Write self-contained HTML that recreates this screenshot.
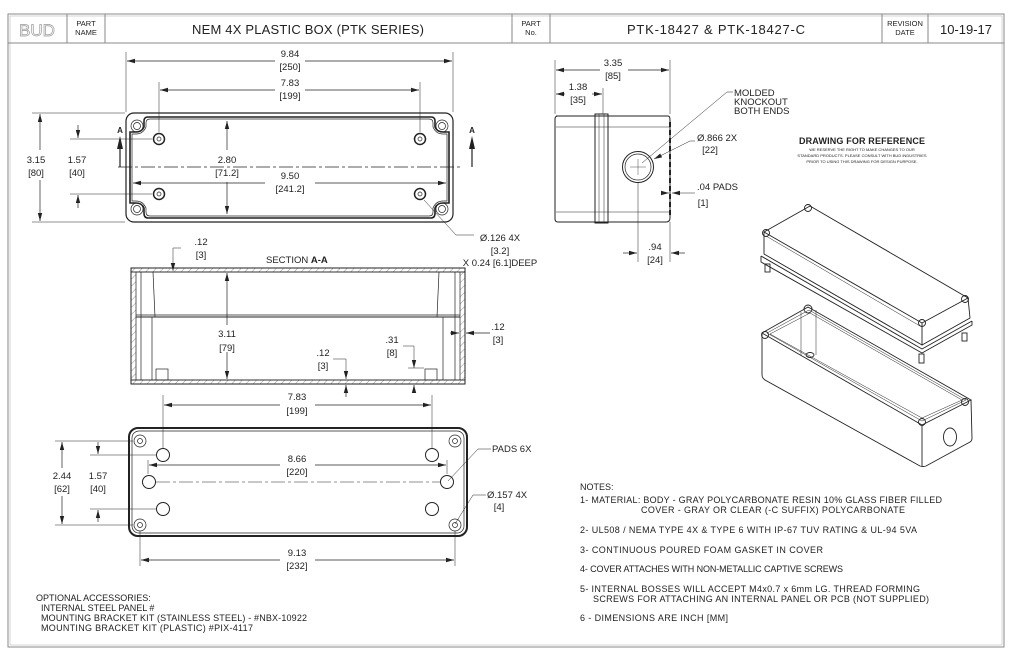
<!DOCTYPE html>
<html><head><meta charset="utf-8"><style>
html,body{margin:0;padding:0;background:#fff}
svg{display:block}
text{font-family:"Liberation Sans",sans-serif;fill:#222}
</style></head><body>
<svg width="1024" height="663" viewBox="0 0 1024 663" xmlns="http://www.w3.org/2000/svg">
<defs>
<marker id="ar" markerWidth="8" markerHeight="6" refX="8" refY="3" orient="auto" markerUnits="userSpaceOnUse"><path d="M0,0.8 L8,3 L0,5.2z" fill="#222"/></marker>
<pattern id="hatch" width="5" height="5" patternUnits="userSpaceOnUse" patternTransform="rotate(45)"><line x1="0" y1="0" x2="0" y2="5" stroke="#666" stroke-width="0.7"/></pattern>
</defs>
<rect x="8" y="14" width="996" height="633" fill="none" stroke="#888" stroke-width="1"/>
<rect x="10" y="16" width="992" height="629" fill="none" stroke="#bbb" stroke-width="0.6"/>
<line x1="8" y1="43" x2="1004" y2="43" stroke="#888"/>
<g stroke="#888">
<line x1="67" y1="14" x2="67" y2="43"/><line x1="105" y1="14" x2="105" y2="43"/>
<line x1="512" y1="14" x2="512" y2="43"/><line x1="550" y1="14" x2="550" y2="43"/>
<line x1="882" y1="14" x2="882" y2="43"/><line x1="928" y1="14" x2="928" y2="43"/>
</g>
<text x="37" y="36" font-size="17" text-anchor="middle" style="fill:none;stroke:#999;stroke-width:0.7">BUD</text>
<text x="86" y="26" font-size="7.5" text-anchor="middle">PART</text>
<text x="86" y="35" font-size="7.5" text-anchor="middle">NAME</text>
<text x="308" y="34" font-size="13" text-anchor="middle" textLength="232">NEM 4X PLASTIC BOX (PTK SERIES)</text>
<text x="531" y="26" font-size="7.5" text-anchor="middle">PART</text>
<text x="531" y="35" font-size="7.5" text-anchor="middle">No.</text>
<text x="716" y="34" font-size="13" text-anchor="middle" textLength="178">PTK-18427 &amp; PTK-18427-C</text>
<text x="905" y="26" font-size="7.5" text-anchor="middle">REVISION</text>
<text x="905" y="35" font-size="7.5" text-anchor="middle">DATE</text>
<text x="966" y="34" font-size="13" text-anchor="middle">10-19-17</text>

<g stroke="#222" fill="none" stroke-width="0.7">
<rect x="126" y="113" width="327" height="109" rx="8" stroke-width="1.2"/>
<path d="M148,117 H431 Q435,117 435,121 V127 Q437,132 443,132 H449 V203 H443 Q437,203 435,208 V213 Q435,218 431,218 H148 Q144,218 144,213 V208 Q142,203 136,203 H130 V132 H136 Q142,132 144,127 V121 Q144,117 148,117Z" stroke-width="1.6"/>
<path d="M150,119 H429 Q433,119 433,123 V127 Q436,134 443,134 H447 V201 H443 Q436,201 433,208 V212 Q433,216 429,216 H150 Q146,216 146,212 V208 Q143,201 136,201 H132 V134 H136 Q143,134 146,127 V123 Q146,119 150,119Z"/>
<circle cx="137" cy="126" r="6"/><circle cx="137" cy="126" r="3.5"/>
<circle cx="442" cy="126" r="6"/><circle cx="442" cy="126" r="3.5"/>
<circle cx="137" cy="209" r="6"/><circle cx="137" cy="209" r="3.5"/>
<circle cx="442" cy="209" r="6"/><circle cx="442" cy="209" r="3.5"/>
<circle cx="159" cy="139" r="5.5" stroke-width="1.5"/><circle cx="159" cy="139" r="2"/>
<circle cx="420" cy="139" r="5.5" stroke-width="1.5"/><circle cx="420" cy="139" r="2"/>
<circle cx="159" cy="194" r="5.5" stroke-width="1.5"/><circle cx="159" cy="194" r="2"/>
<circle cx="420" cy="194" r="5.5" stroke-width="1.5"/><circle cx="420" cy="194" r="2"/>
<line x1="118" y1="167" x2="460" y2="167" stroke-dasharray="14,3,3,3"/>
<line x1="120" y1="167" x2="120" y2="148" stroke-width="1.2"/>
<path d="M117,149 L120,136 L123,149Z" fill="#222" stroke="none"/>
<line x1="472" y1="167" x2="472" y2="148" stroke-width="1.2"/>
<path d="M469,149 L472,136 L475,149Z" fill="#222" stroke="none"/>
<line x1="126" y1="52" x2="126" y2="112" stroke-width="0.5"/><line x1="453" y1="52" x2="453" y2="112" stroke-width="0.5"/>
<line x1="275" y1="61" x2="127" y2="61" marker-end="url(#ar)"/><line x1="305" y1="61" x2="452" y2="61" marker-end="url(#ar)"/>
<line x1="159" y1="82" x2="159" y2="132" stroke-width="0.5"/><line x1="420" y1="82" x2="420" y2="132" stroke-width="0.5"/>
<line x1="275" y1="90" x2="160" y2="90" marker-end="url(#ar)"/><line x1="305" y1="90" x2="419" y2="90" marker-end="url(#ar)"/>
<line x1="32" y1="113" x2="125" y2="113" stroke-width="0.5"/><line x1="32" y1="222" x2="125" y2="222" stroke-width="0.5"/>
<line x1="40" y1="150" x2="40" y2="114" marker-end="url(#ar)"/><line x1="40" y1="180" x2="40" y2="221" marker-end="url(#ar)"/>
<line x1="70" y1="139" x2="152" y2="139" stroke-width="0.5"/><line x1="70" y1="194" x2="152" y2="194" stroke-width="0.5"/>
<line x1="78" y1="125" x2="78" y2="138" marker-end="url(#ar)"/><line x1="78" y1="208" x2="78" y2="195" marker-end="url(#ar)"/>
<line x1="227" y1="150" x2="227" y2="121" marker-end="url(#ar)"/><line x1="227" y1="182" x2="227" y2="214" marker-end="url(#ar)"/>
<line x1="265" y1="183" x2="133" y2="183" marker-end="url(#ar)"/><line x1="315" y1="183" x2="446" y2="183" marker-end="url(#ar)"/>
<polyline points="474,235 456,235 424,200" stroke-width="0.5"/>
<path d="M556,116 H668 Q670,116 670,120 V218 Q670,222 666,222 H558 Q555,222 555,219 V119 Q555,116 558,116Z" stroke-width="1"/>
<line x1="556" y1="127" x2="670" y2="127" stroke-width="0.5"/>
<line x1="556" y1="212" x2="670" y2="212" stroke-width="0.5"/>
<rect x="595" y="114" width="13" height="109" stroke-width="1"/>
<line x1="599" y1="114" x2="599" y2="223" stroke-width="0.5"/><line x1="604" y1="114" x2="604" y2="223" stroke-width="0.5"/>
<path d="M670,122 V218" stroke-width="2" stroke-dasharray="5,3"/>
<circle cx="638" cy="167" r="15.5" stroke-width="1"/><circle cx="638" cy="167" r="13"/>
<line x1="630" y1="167" x2="646" y2="167" stroke-width="0.4"/><line x1="638" y1="159" x2="638" y2="175" stroke-width="0.4"/>
<line x1="555" y1="60" x2="555" y2="114" stroke-width="0.5"/><line x1="670" y1="60" x2="670" y2="114" stroke-width="0.5"/>
<line x1="600" y1="70" x2="556" y2="70" marker-end="url(#ar)"/><line x1="628" y1="70" x2="669" y2="70" marker-end="url(#ar)"/>
<line x1="603" y1="88" x2="603" y2="114" stroke-width="0.5"/>
<line x1="565" y1="94" x2="556" y2="94" marker-end="url(#ar)"/><line x1="592" y1="94" x2="602" y2="94" marker-end="url(#ar)"/>
<polyline points="733,92 727,92 642,163" stroke-width="0.5"/>
<polyline points="695,141 690,141 654,159" stroke-width="0.5" marker-end="url(#ar)"/>
<line x1="662" y1="193" x2="669" y2="193" stroke-width="0.5" marker-end="url(#ar)"/>
<line x1="695" y1="193" x2="672" y2="193" stroke-width="0.5" marker-end="url(#ar)"/>
<line x1="638" y1="183" x2="638" y2="262" stroke-width="0.5"/>
<line x1="670" y1="222" x2="670" y2="262" stroke-width="0.5"/>
<line x1="623" y1="253" x2="637" y2="253" marker-end="url(#ar)"/><line x1="685" y1="253" x2="671" y2="253" marker-end="url(#ar)"/>
<rect x="131" y="268" width="334" height="116" stroke-width="1"/>
<rect x="131" y="268" width="334" height="4" fill="url(#hatch)"/>
<rect x="131" y="380" width="334" height="4" fill="url(#hatch)"/>
<rect x="131" y="272" width="5" height="108" fill="url(#hatch)"/>
<rect x="460" y="272" width="5" height="108" fill="url(#hatch)"/>
<line x1="136" y1="272" x2="460" y2="272"/><line x1="136" y1="380" x2="460" y2="380"/>
<line x1="136" y1="317" x2="460" y2="317" stroke-width="1"/><line x1="136" y1="315" x2="460" y2="315"/>
<line x1="141" y1="272" x2="141" y2="380"/><line x1="455" y1="272" x2="455" y2="380"/>
<line x1="153" y1="272" x2="155" y2="317"/><line x1="439" y1="272" x2="437" y2="317"/>
<line x1="152" y1="317" x2="152" y2="380"/><line x1="443" y1="317" x2="443" y2="380"/>
<rect x="156" y="369" width="12" height="11"/><rect x="425" y="369" width="12" height="11"/>
<line x1="173" y1="248" x2="173" y2="271" stroke-width="0.5" marker-end="url(#ar)"/><line x1="173" y1="248" x2="181" y2="248" stroke-width="0.5"/>
<line x1="227" y1="325" x2="227" y2="273" marker-end="url(#ar)"/><line x1="227" y1="352" x2="227" y2="379" marker-end="url(#ar)"/>
<polyline points="333,359 346,359 346,379" stroke-width="0.5" marker-end="url(#ar)"/><line x1="346" y1="397" x2="346" y2="385" marker-end="url(#ar)"/>
<polyline points="403,346 414,346 414,368" stroke-width="0.5" marker-end="url(#ar)"/><line x1="414" y1="393" x2="414" y2="385" marker-end="url(#ar)"/>
<line x1="408" y1="368" x2="424" y2="368" stroke-width="0.5"/>
<line x1="450" y1="333" x2="459" y2="333" marker-end="url(#ar)"/><line x1="490" y1="333" x2="466" y2="333" marker-end="url(#ar)"/>
<line x1="163" y1="395" x2="163" y2="448" stroke-width="0.5"/><line x1="432" y1="395" x2="432" y2="448" stroke-width="0.5"/>
<line x1="280" y1="405" x2="164" y2="405" marker-end="url(#ar)"/><line x1="315" y1="405" x2="431" y2="405" marker-end="url(#ar)"/>
<rect x="129" y="428" width="338" height="108" rx="9" stroke-width="2"/>
<rect x="132" y="431" width="332" height="102" rx="7"/>
<circle cx="140" cy="441" r="6"/><circle cx="140" cy="441" r="2.5"/>
<circle cx="455" cy="441" r="6"/><circle cx="455" cy="441" r="2.5"/>
<circle cx="140" cy="525" r="6"/><circle cx="140" cy="525" r="2.5"/>
<circle cx="455" cy="525" r="6"/><circle cx="455" cy="525" r="2.5"/>
<circle cx="163" cy="455" r="6.5" stroke-width="1"/><circle cx="432" cy="455" r="6.5" stroke-width="1"/>
<circle cx="149" cy="482" r="6.5" stroke-width="1"/><circle cx="447" cy="482" r="6.5" stroke-width="1"/>
<circle cx="163" cy="509" r="6.5" stroke-width="1"/><circle cx="432" cy="509" r="6.5" stroke-width="1"/>
<line x1="156" y1="482" x2="440" y2="482" stroke-dasharray="14,3,3,3" stroke-width="0.5"/>
<line x1="148" y1="460" x2="148" y2="474" stroke-width="0.5"/><line x1="447" y1="460" x2="447" y2="474" stroke-width="0.5"/>
<line x1="280" y1="465" x2="149" y2="465" marker-end="url(#ar)"/><line x1="315" y1="465" x2="446" y2="465" marker-end="url(#ar)"/>
<line x1="55" y1="441" x2="133" y2="441" stroke-width="0.5"/><line x1="55" y1="525" x2="133" y2="525" stroke-width="0.5"/>
<line x1="62" y1="468" x2="62" y2="442" marker-end="url(#ar)"/><line x1="62" y1="496" x2="62" y2="524" marker-end="url(#ar)"/>
<line x1="90" y1="455" x2="156" y2="455" stroke-width="0.5"/><line x1="90" y1="509" x2="156" y2="509" stroke-width="0.5"/>
<line x1="98" y1="442" x2="98" y2="454" marker-end="url(#ar)"/><line x1="98" y1="522" x2="98" y2="510" marker-end="url(#ar)"/>
<line x1="140" y1="531" x2="140" y2="566" stroke-width="0.5"/><line x1="455" y1="531" x2="455" y2="566" stroke-width="0.5"/>
<line x1="280" y1="560" x2="141" y2="560" marker-end="url(#ar)"/><line x1="315" y1="560" x2="454" y2="560" marker-end="url(#ar)"/>
<polyline points="491,449 478,449 448,481" stroke-width="0.5"/>
<polyline points="486,495 473,495 455,524" stroke-width="0.5"/>
<g stroke-width="0.9">
<path d="M764,232 L810,206 L968,298 L922,323 Z"/>
<path d="M764,232 L764,254 L922,345 L922,323"/>
<path d="M922,345 L970,318 L968,298"/>
<path d="M761,256 L922,349 L972,321"/>
<path d="M761,256 L761,262 L922,353 L972,325 L972,321"/>
<path d="M766,236 L920,326" stroke-width="0.5"/>
<circle cx="808" cy="208" r="3.5"/><circle cx="766" cy="233" r="3.5"/><circle cx="965" cy="299" r="3.5"/><circle cx="922" cy="323" r="3.5"/>
<rect x="765" y="264" width="5" height="8"/><rect x="919" y="354" width="5" height="9"/><rect x="962" y="333" width="5" height="8"/>
<path d="M762,333 L808,307 L971,400 L922,425 Z"/>
<path d="M767,333 L809,310 L966,400 L922,421 Z" stroke-width="0.5"/>
<path d="M770,334 L810,313 L962,400 L922,418 Z" stroke-width="0.5"/>
<path d="M762,333 L762,375 Q762,378 765,380 L920,466 Q923,467 926,466 L970,442 Q972,441 972,438 L971,400"/>
<line x1="922" y1="425" x2="922" y2="466"/>
<line x1="801" y1="312" x2="801" y2="355" stroke-width="0.5"/><line x1="816" y1="310" x2="816" y2="355" stroke-width="0.5"/>
<ellipse cx="810" cy="355" rx="4" ry="2.5"/>
<circle cx="808" cy="309" r="4"/><circle cx="765" cy="335" r="3.5"/><circle cx="965" cy="402" r="3.5"/><circle cx="922" cy="422" r="3.5"/>
<ellipse cx="950" cy="437" rx="6.5" ry="9"/>
</g>
</g>
<g font-size="9.5" text-anchor="middle">
<text x="290" y="57">9.84</text><text x="290" y="70">[250]</text>
<text x="290" y="86">7.83</text><text x="290" y="99">[199]</text>
<text x="36" y="163">3.15</text><text x="36" y="176">[80]</text>
<text x="77" y="163">1.57</text><text x="77" y="176">[40]</text>
<text x="227" y="163">2.80</text><text x="227" y="176">[71.2]</text>
<text x="290" y="179">9.50</text><text x="290" y="192">[241.2]</text>
<text x="120" y="133" font-size="8" font-weight="bold">A</text>
<text x="472" y="133" font-size="8" font-weight="bold">A</text>
<text x="500" y="241">Ø.126 4X</text><text x="500" y="254">[3.2]</text>
<text x="500" y="266">X 0.24 [6.1]DEEP</text>
<text x="613" y="66">3.35</text><text x="613" y="79">[85]</text>
<text x="578" y="90">1.38</text><text x="578" y="103">[35]</text>
<text x="655" y="250">.94</text><text x="655" y="263">[24]</text>
<text x="201" y="245">.12</text><text x="201" y="258">[3]</text>
<text x="227" y="337">3.11</text><text x="227" y="351">[79]</text>
<text x="323" y="356">.12</text><text x="323" y="369">[3]</text>
<text x="392" y="343">.31</text><text x="392" y="356">[8]</text>
<text x="498" y="330">.12</text><text x="498" y="343">[3]</text>
<text x="297" y="400">7.83</text><text x="297" y="414">[199]</text>
<text x="297" y="462">8.66</text><text x="297" y="475">[220]</text>
<text x="62" y="479">2.44</text><text x="62" y="492">[62]</text>
<text x="98" y="479">1.57</text><text x="98" y="492">[40]</text>
<text x="297" y="556">9.13</text><text x="297" y="569">[232]</text>
<text x="499" y="510">[4]</text>
<text x="703" y="206">[1]</text>
<text x="710" y="153">[22]</text>
</g>
<g font-size="9.5">
<text x="266" y="263">SECTION <tspan font-weight="bold">A-A</tspan></text>
<text x="734" y="96">MOLDED</text><text x="734" y="105">KNOCKOUT</text><text x="734" y="114">BOTH ENDS</text>
<text x="697" y="141">Ø.866 2X</text>
<text x="697" y="190">.04 PADS</text>
<text x="492" y="452">PADS 6X</text>
<text x="487" y="498">Ø.157 4X</text>
</g>
<text x="862" y="144" font-size="9" font-weight="bold" text-anchor="middle" textLength="126">DRAWING FOR REFERENCE</text>
<g font-size="4" text-anchor="middle" fill="#444">
<text x="862" y="151">WE RESERVE THE RIGHT TO MAKE CHANGES TO OUR</text>
<text x="862" y="157">STANDARD PRODUCTS. PLEASE CONSULT WITH BUD INDUSTRIES</text>
<text x="862" y="163">PRIOR TO USING THIS DRAWING FOR DESIGN PURPOSE.</text>
</g>
<g font-size="9">
<text x="36" y="601">OPTIONAL ACCESSORIES:</text>
<text x="41" y="611">INTERNAL STEEL PANEL #</text>
<text x="41" y="621" textLength="266">MOUNTING BRACKET KIT (STAINLESS STEEL) - #NBX-10922</text>
<text x="41" y="631" textLength="212">MOUNTING BRACKET KIT (PLASTIC) #PIX-4117</text>
<text x="580" y="490">NOTES:</text>
<text x="580" y="503" textLength="362">1- MATERIAL:  BODY - GRAY POLYCARBONATE RESIN 10% GLASS FIBER FILLED</text>
<text x="641" y="513" textLength="264">COVER - GRAY OR CLEAR (-C SUFFIX) POLYCARBONATE</text>
<text x="580" y="533" textLength="337">2- UL508 / NEMA TYPE 4X &amp; TYPE 6 WITH IP-67 TUV RATING &amp; UL-94 5VA</text>
<text x="580" y="553" textLength="243">3- CONTINUOUS POURED FOAM GASKET IN COVER</text>
<text x="580" y="572" textLength="263">4- COVER ATTACHES WITH NON-METALLIC CAPTIVE SCREWS</text>
<text x="580" y="592" textLength="340">5- INTERNAL BOSSES WILL ACCEPT M4x0.7 x 6mm LG. THREAD FORMING</text>
<text x="593" y="602" textLength="336">SCREWS FOR ATTACHING AN INTERNAL PANEL OR PCB (NOT SUPPLIED)</text>
<text x="580" y="621" textLength="148">6 - DIMENSIONS ARE INCH [MM]</text>
</g>
</svg>
</body></html>
